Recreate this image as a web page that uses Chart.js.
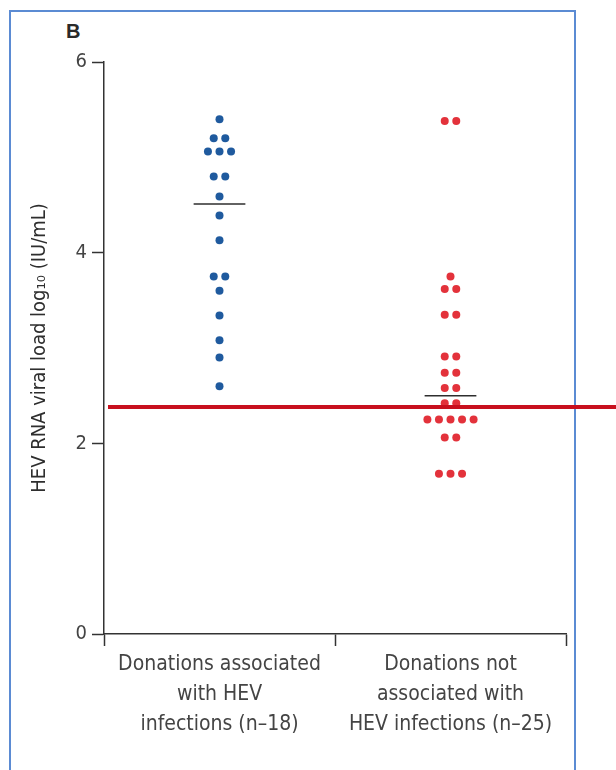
<!DOCTYPE html>
<html>
<head>
<meta charset="utf-8">
<script src="https://cdn.jsdelivr.net/npm/chart.js@4/dist/chart.umd.min.js"></script>
<style>
  html, body { margin: 0; padding: 0; background: #ffffff; overflow: hidden; }
  #wrap { position: relative; width: 616px; height: 770px; }
  #frame {
    position: absolute; left: 9px; top: 10px; width: 567px; height: 800px;
    border: 2px solid #5b8bd3; box-sizing: border-box; pointer-events: none;
  }
  #panel {
    position: absolute; left: 66px; top: 20px;
    font: bold 20px "Liberation Sans", Arial, sans-serif; color: #2a2a2a;
  }
  canvas { position: absolute; left: 0; top: 0; }
</style>
</head>
<body>
<div id="wrap">
  <div id="frame"></div>
  <div id="panel">B</div>
  <canvas id="chart" width="616" height="770"></canvas>
</div>
<script>
// Group labels (one array entry per line of text)
const categories = [
  ['Donations associated', 'with HEV', 'infections (n\u201318)'],
  ['Donations not', 'associated with', 'HEV infections (n\u201325)']
];

// HEV RNA viral load, log10 IU/mL, per donation
const associatedLoads = [
  5.40, 5.20, 5.20, 5.06, 5.06, 5.06, 4.80, 4.80, 4.59,
  4.39, 4.13, 3.75, 3.75, 3.60, 3.34, 3.08, 2.90, 2.60
];
const notAssociatedLoads = [
  5.38, 5.38, 3.75, 3.62, 3.62, 3.35, 3.35, 2.91, 2.91,
  2.74, 2.74, 2.58, 2.58, 2.42, 2.42, 2.25, 2.25, 2.25,
  2.25, 2.25, 2.06, 2.06, 1.68, 1.68, 1.68
];

// Group medians and the assay limit line
const medians = [4.51, 2.50];
const detectionLimit = 2.38;

// Y axis tick values
const yTicks = [0, 2, 4, 6];

const axisColor = '#333333';
const textColor = '#444444';
const labelFont = '"Liberation Sans Narrow", "DejaVu Sans Condensed", "Liberation Sans", sans-serif';

// Category centres on a 0..2 linear axis; equal values are spread side by side
const centres = [0.5, 1.5];
const dotStep = 0.05;
const medianHalfWidth = 0.112;

function swarm(values, centre) {
  const groups = new Map();
  values.forEach(v => { groups.set(v, (groups.get(v) || 0) + 1); });
  const pts = [];
  groups.forEach((n, v) => {
    for (let i = 0; i < n; i++) {
      pts.push({ x: centre + (i - (n - 1) / 2) * dotStep, y: v });
    }
  });
  return pts;
}

function medianSegment(i) {
  return [
    { x: centres[i] - medianHalfWidth, y: medians[i] },
    { x: centres[i] + medianHalfWidth, y: medians[i] }
  ];
}

// Horizontal limit line, running from the y axis to the page edge
const limitLine = {
  id: 'limitLine',
  afterDatasetsDraw(chart) {
    const y = chart.scales.y.getPixelForValue(detectionLimit);
    const ctx = chart.ctx;
    ctx.save();
    ctx.strokeStyle = '#c8101e';
    ctx.lineWidth = 4;
    ctx.beginPath();
    ctx.moveTo(chart.chartArea.left + 4, y);
    ctx.lineTo(chart.width, y);
    ctx.stroke();
    ctx.restore();
  }
};

new Chart(document.getElementById('chart'), {
  type: 'scatter',
  data: {
    datasets: [
      {
        data: swarm(associatedLoads, centres[0]),
        backgroundColor: '#1f5a9e', borderColor: '#1f5a9e',
        pointRadius: 4, pointBorderWidth: 0
      },
      {
        data: swarm(notAssociatedLoads, centres[1]),
        backgroundColor: '#e3323b', borderColor: '#e3323b',
        pointRadius: 4, pointBorderWidth: 0
      },
      {
        data: medianSegment(0), showLine: true, pointRadius: 0,
        borderColor: '#2e2e2e', borderWidth: 1.5
      },
      {
        data: medianSegment(1), showLine: true, pointRadius: 0,
        borderColor: '#2e2e2e', borderWidth: 1.5
      }
    ]
  },
  options: {
    responsive: false,
    animation: false,
    events: [],
    layout: { padding: { left: 20, top: 62, right: 50, bottom: 0 } },
    plugins: { legend: { display: false }, tooltip: { enabled: false } },
    scales: {
      x: {
        type: 'linear', min: 0, max: 2,
        afterBuildTicks(scale) {
          scale.ticks = [0, 0.5, 1, 1.5, 2].map(v => ({ value: v }));
        },
        afterFit(scale) { scale.height = 136; },
        border: { display: true, color: axisColor, width: 1.5 },
        grid: {
          drawOnChartArea: false, drawTicks: true, tickLength: 12,
          tickWidth: 1.5,
          tickColor: ctx => Number.isInteger(ctx.tick.value) ? axisColor : 'rgba(0,0,0,0)'
        },
        ticks: {
          autoSkip: false, maxRotation: 0, minRotation: 0, padding: 4,
          color: textColor,
          font: { family: labelFont, size: 21, lineHeight: 1.42 },
          callback: v => {
            const i = centres.indexOf(v);
            return i >= 0 ? categories[i] : '';
          }
        }
      },
      y: {
        min: 0, max: 6,
        afterBuildTicks(scale) {
          scale.ticks = yTicks.map(v => ({ value: v }));
        },
        afterFit(scale) { scale.width = 84; },
        border: { display: true, color: axisColor, width: 1.5 },
        grid: {
          drawOnChartArea: false, drawTicks: true, tickLength: 12,
          tickWidth: 1.5, tickColor: axisColor
        },
        ticks: {
          padding: 5, color: textColor,
          font: { family: labelFont, size: 20 }
        },
        title: {
          display: true,
          text: 'HEV RNA viral load log\u2081\u2080 (IU/mL)',
          color: '#2e2e2e',
          padding: { top: 8, bottom: 0 },
          font: { family: labelFont, size: 20 }
        }
      }
    }
  },
  plugins: [limitLine]
});
</script>
</body>
</html>
